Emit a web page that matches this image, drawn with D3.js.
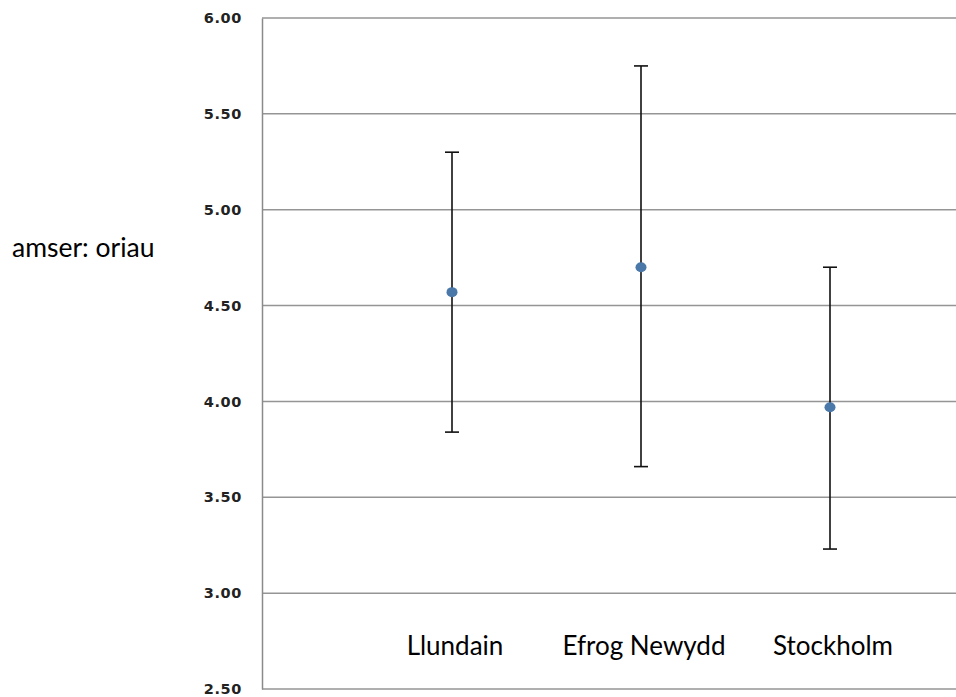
<!DOCTYPE html>
<html><head><meta charset="utf-8">
<script src="https://cdn.jsdelivr.net/npm/d3@7"></script>
<style>body{margin:0;background:#fff;}svg{display:block;}</style>
</head><body>
<svg id="chart" width="956" height="697"></svg>
<script>
const categories = ["Llundain", "Efrog Newydd", "Stockholm"];
const means = [4.57, 4.70, 3.97];
const upper = [5.30, 5.75, 4.70];
const lower = [3.84, 3.66, 3.23];
const yTicks = [2.5, 3.0, 3.5, 4.0, 4.5, 5.0, 5.5, 6.0];
const yTitle = "amser: oriau";

(function () {
const svg = d3.select("#chart");
const mLeft = 262, mRight = 956, mTop = 18, mBottom = 689;
const y = d3.scaleLinear().domain([2.5, 6.0]).range([mBottom, mTop]);
const x = d3.scalePoint().domain(categories).range([452, 830]);

// gridlines
svg.append("g").selectAll("line").data(yTicks).join("line")
  .attr("x1", mLeft).attr("x2", mRight)
  .attr("y1", d => y(d)).attr("y2", d => y(d))
  .attr("stroke", "#959595").attr("stroke-width", 1.5);

// y axis
const yAxis = d3.axisLeft(y).tickValues(yTicks).tickFormat(d3.format(".2f")).tickSize(0).tickPadding(20);
const ga = svg.append("g").attr("transform", `translate(${mLeft},0)`).call(yAxis);
ga.attr("font-family", null).attr("font-size", null);
ga.select(".domain").attr("stroke", "#8a8a8a").attr("stroke-width", 1.5);
ga.selectAll("text").style("font-family", "'DejaVu Sans', sans-serif").style("font-size", "14.5px")
  .style("font-weight", "bold").attr("fill", "#222").style("letter-spacing", "0.6px");

// y title
svg.append("text").attr("x", 12).attr("y", 257).text(yTitle)
  .style("font-family", "Lato, 'Open Sans', sans-serif").style("font-size", "26.5px").attr("fill", "#000");

// category labels
svg.append("g").selectAll("text").data(categories).join("text")
  .attr("x", d => x(d) + 3).attr("y", 655).attr("text-anchor", "middle")
  .style("font-family", "Lato, 'Open Sans', sans-serif").style("font-size", "26px").attr("fill", "#000")
  .text(d => d);

// error bars
const g = svg.append("g");
categories.forEach((c, i) => {
  const cx = x(c);
  g.append("line").attr("x1", cx).attr("x2", cx).attr("y1", y(upper[i])).attr("y2", y(lower[i]))
    .attr("stroke", "#111").attr("stroke-width", 1.6);
  [upper[i], lower[i]].forEach(v => {
    g.append("line").attr("x1", cx - 7).attr("x2", cx + 7).attr("y1", y(v)).attr("y2", y(v))
      .attr("stroke", "#111").attr("stroke-width", 1.6);
  });
});
g.selectAll("ellipse").data(categories).join("ellipse")
  .attr("cx", d => x(d)).attr("cy", (d, i) => y(means[i]))
  .attr("rx", 5.5).attr("ry", 5).attr("fill", "#4a78a8");
})();
</script>
</body></html>
